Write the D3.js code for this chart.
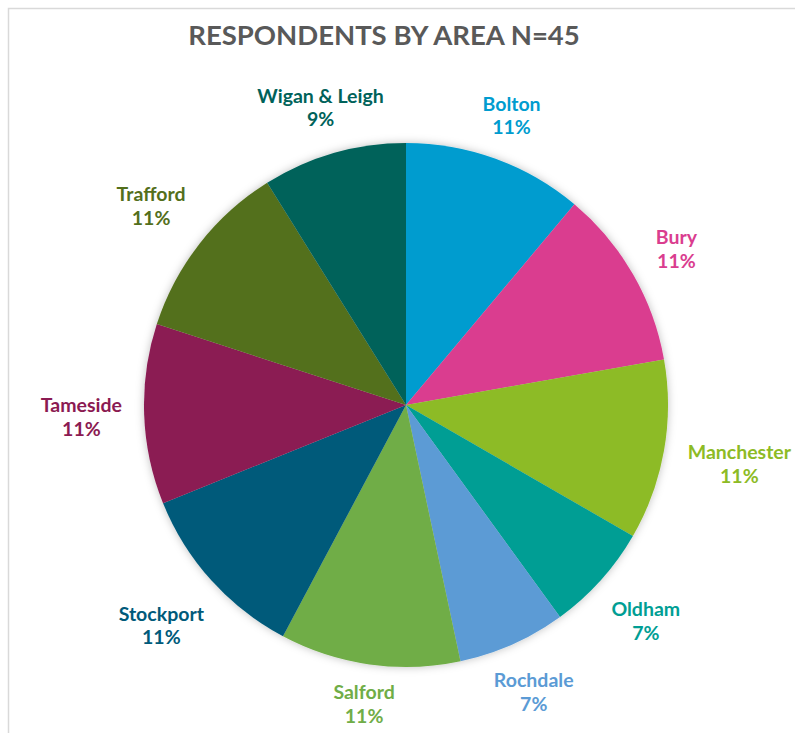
<!DOCTYPE html>
<html><head><meta charset="utf-8">
<script src="https://cdn.jsdelivr.net/npm/d3@7"></script>
<style>html,body{margin:0;padding:0;background:#fff;}</style>
</head><body>
<svg id="c" width="795" height="733"></svg>
<script>
const categories = ["Bolton","Bury","Manchester","Oldham","Rochdale","Salford","Stockport","Tameside","Trafford","Wigan & Leigh"];
const counts = [5,5,5,3,3,5,5,5,5,4];
const colors = ["#009ccf","#da3d8f","#8dbb25","#009e94","#5b9bd5","#70ad47","#005a7a","#8b1a52","#536f1b","#00625a"];
const title = "RESPONDENTS BY AREA N=45";

const svg = d3.select("#c");
const W = 795, H = 733;
const cx = 406, cy = 405, R = 262, gap = 13, padX = 9;
const font = "Lato, 'Open Sans', sans-serif";

svg.append("rect").attr("x",8.5).attr("y",8.5).attr("width",W).attr("height",H)
  .attr("fill","#fff").attr("stroke","#d9d9d9").attr("stroke-width",1.5);

const defs = svg.append("defs");
const f = defs.append("filter").attr("id","sh").attr("x","-20%").attr("y","-20%").attr("width","140%").attr("height","140%");
f.append("feDropShadow").attr("dx",0).attr("dy",0).attr("stdDeviation",4).attr("flood-color","#000").attr("flood-opacity",0.25);

svg.append("text").attr("x",384).attr("y",45).attr("text-anchor","middle")
  .attr("font-family",font).attr("font-weight","bold").attr("font-size",27.5)
  .attr("fill","#595959").text(title);

const total = d3.sum(counts);
const data = categories.map((c,i)=>({name:c,value:counts[i],color:colors[i]}));
const pie = d3.pie().sort(null).value(d=>d.value);
const arcs = pie(data);
const arc = d3.arc().innerRadius(0).outerRadius(R);

const g = svg.append("g").attr("transform",`translate(${cx},${cy})`);
g.append("g").attr("filter","url(#sh)").selectAll("path").data(arcs).join("path")
  .attr("d",arc).attr("fill",d=>d.data.color);

const lg = g.append("g");
arcs.forEach(a=>{
  const t = lg.append("text").attr("text-anchor","middle")
    .attr("font-family",font).attr("font-weight","bold").attr("font-size",19.5)
    .attr("fill",a.data.color);
  t.append("tspan").attr("x",0).attr("dy","-0.25em").text(a.data.name);
  t.append("tspan").attr("x",0).attr("dy","1.22em").text(Math.round(a.data.value/total*100)+"%");
  const bb = t.node().getBBox();
  const ocx = bb.x + bb.width/2, ocy = bb.y + bb.height/2;
  const w = bb.width + 2*padX, h = bb.height;
  const m = (a.startAngle+a.endAngle)/2;
  const ux = Math.sin(m), uy = -Math.cos(m);
  const dist = s=>{
    const px = ux*s, py = uy*s;
    const dx = Math.max(Math.abs(px)-w/2,0), dy = Math.max(Math.abs(py)-h/2,0);
    return Math.hypot(dx,dy);
  };
  let lo=0, hi=600;
  for(let k=0;k<50;k++){const mid=(lo+hi)/2; if(dist(mid)<R+gap) lo=mid; else hi=mid;}
  t.attr("transform",`translate(${ux*lo-ocx},${uy*lo-ocy})`);
});
</script>
</body></html>
